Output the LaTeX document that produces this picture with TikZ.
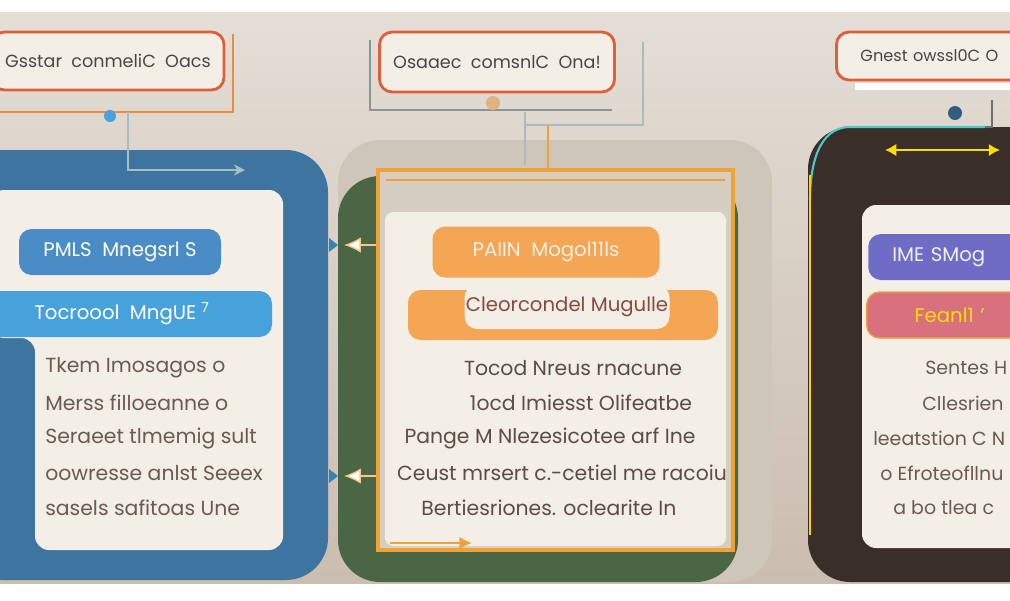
\documentclass[tikz,border=0pt]{standalone}
\usepackage{fontspec}
\setmainfont{Poppins}
\usetikzlibrary{positioning,arrows.meta,calc}
\definecolor{bgtop}{HTML}{E4DED6}
\definecolor{bgbot}{HTML}{CBBDB0}
\definecolor{cream}{HTML}{F3EEE6}
\definecolor{redline}{HTML}{DF5F3B}
\definecolor{orngline}{HTML}{F0A236}
\definecolor{bluepanel}{HTML}{3E74A0}
\definecolor{bluepill}{HTML}{4A8CC6}
\definecolor{skypill}{HTML}{47A1DA}
\definecolor{greenpanel}{HTML}{4B6644}
\definecolor{panelgray}{HTML}{CFC6BA}
\definecolor{orngpill}{HTML}{F4A654}
\definecolor{darkpanel}{HTML}{3A2E29}
\definecolor{purplepill}{HTML}{6E6CC4}
\definecolor{pinkpill}{HTML}{D9707E}
\definecolor{bodytext}{HTML}{6B5B4F}
\definecolor{conngray}{HTML}{A9BCC2}
\newcommand{\pw}{0.025cm}
\begin{document}
\begin{tikzpicture}[x=0.025cm, y=-0.025cm,
    title/.style={draw=redline, line width=2pt, fill=cream, rounded corners=9pt,
        inner sep=0pt, font=\fontsize{12.5}{15}\selectfont, text=black!72},
    pill/.style={rounded corners=9pt, inner sep=0pt, minimum height=46*\pw,
        font=\fontsize{14}{17}\selectfont, text=white},
    body/.style={font=\fontsize{14.5}{17}\selectfont, text=bodytext, inner sep=0pt},
    conn/.style={line width=1.3pt, draw=conngray}]
    \useasboundingbox (0,0) rectangle (1010,600);
    \fill[white] (0,0) rectangle (1010,600);
    \shade[top color=bgtop, bottom color=bgbot] (0,12) rectangle (1010,583);

    % panel one
    \fill[bluepanel, rounded corners=30pt] (-40,150) rectangle (328,580);
    \fill[cream, rounded corners=10pt] (-10,190) -- (283,190) -- (283,550)
        -- (35,550) -- (35,338) -- (-10,338) -- cycle;
    \node[pill, fill=bluepill, minimum width=202*\pw] (p-1-A) at (120,252) {PMLS\ \ Mnegsrl S};
    \node[pill, fill=skypill, minimum width=300*\pw] (p-2-A) at (122,314) {Tocroool\ \ MngUE \textsuperscript{7}};
    \foreach[count=\j] \lj in {Tkem Imosagos o, Merss filloeanne o, Seraeet tlmemig sult,
        oowresse anlst Seeex, sasels safitoas Une} {
        \node[body, anchor=west] (n-\j-A) at (45,{368+35*(\j-1)}) {\lj};
    }

    % panel two
    \fill[panelgray, rounded corners=30pt] (338,140) rectangle (772,582);
    \fill[greenpanel, rounded corners=30pt] (338,176) rectangle (738,582);
    \draw[orngline, line width=2.5pt, fill=panelgray!80!cream] (378,170) rectangle (733,550);
    \draw[orngline, line width=1.5pt] (386,180) -- (725,180);
    \fill[cream, rounded corners=6pt] (385,212) rectangle (726,546);
    \node[pill, fill=orngpill, minimum width=227*\pw, minimum height=51*\pw,
        text=cream] (p-1-B) at (546,252) {PAIIN\ \ Mogol11ls};
    \node[pill, fill=orngpill, minimum width=310*\pw, minimum height=50*\pw] (p-2-B) at (563,315) {};
    \node[pill, fill=cream, minimum width=205*\pw, minimum height=44*\pw,
        text=bodytext!80!red] (p-3-B) at (567,307) {Cleorcondel Mugulle};
    \foreach[count=\j] \lx/\lj in {573/Tocod Nreus rnacune, 581/1ocd Imiesst Olifeatbe,
        550/Pange M Nlezesicotee arf Ine, 562/Ceust mrsert c.-cetiel me racoiu,
        549/Bertiesriones. oclearite In} {
        \node[body, text=bodytext!85!black] (n-\j-B) at (\lx,{368+35*(\j-1)}) {\lj};
    }
    \coordinate (f-1) at (390,543);
    \coordinate (f-2) at (472,543);
    \draw[orngline, line width=2pt, -{Latex[length=9pt, width=9pt]}] (f-1) -- (f-2);

    % panel three
    \fill[darkpanel, rounded corners=30pt] (808,127) rectangle (1060,582);
    \draw[teal!60!cyan!70, line width=1.5pt] (810,200) to[out=90, in=180] (850,127) -- (985,127);
    \draw[yellow!70!orange, line width=2pt] (810,175) -- (810,535);
    \fill[cream, rounded corners=10pt] (862,205) rectangle (1060,548);
    \node[pill, fill=purplepill, anchor=west, minimum width=260*\pw, text width=260*\pw,
        align=left, text=white!90!purplepill] (p-1-C) at (868,257) {\hspace*{0.6cm}IME SMog};
    \node[pill, fill=pinkpill, draw=orngline, line width=1pt, anchor=west, minimum width=260*\pw,
        text width=260*\pw, align=left, text=yellow!80!orange] (p-2-C) at (866,315) {\hspace*{1.2cm}Feanl1 '};
    \foreach[count=\j] \lx/\lj in {925/Sentes H, 922/Cllesrien, 873/leeatstion C N,
        880/o Efroteofllnu, 893/a bo tlea c} {
        \node[body, anchor=west, font=\fontsize{13.5}{16}\selectfont] (n-\j-C) at (\lx,{368+35*(\j-1)}) {\lj};
    }
    \coordinate (d-1) at (885,150);
    \coordinate (d-2) at (1000,150);
    \draw[yellow!80!orange, line width=2pt, {Latex[length=8pt, width=9pt]}-{Latex[length=8pt, width=9pt]}] (d-1) -- (d-2);

    % titles
    \draw[orngline!70!redline, line width=1.2pt] (-5,112) -- (233,112) -- (233,34);
    \node[title, minimum width=232*\pw, minimum height=58*\pw] (t-A) at (108,61) {Gsstar\ \ conmeliC\ \ Oacs};
    \draw[conngray!80!black, line width=1pt] (370,40) -- (370,110) -- (612,110);
    \draw[conngray, line width=1.2pt] (525,125) -- (643,125) -- (643,42);
    \node[title, minimum width=235*\pw, minimum height=60*\pw] (t-B) at (497,62) {Osaaec\ \ comsnlC\ \ Ona!};
    \node[title, minimum width=200*\pw, minimum height=48*\pw, anchor=west, text width=200*\pw,
        align=left, font=\fontsize{11.5}{14}\selectfont] (t-C) at (835,56) {\hspace*{0.6cm}Gnest owssl0C O};
    \fill[white] (855,83) rectangle (1010,90);

    % connectors
    \coordinate (c-1) at (128,112);
    \coordinate (c-2) at (245,170);
    \draw[conn, -{Stealth[length=8pt, width=8pt, fill=white]}] (c-1) |- (c-2);
    \fill[skypill] (110,116) circle (6);
    \coordinate (c-3) at (548,125);
    \draw[orngline, line width=1.5pt] (c-3) -- (548,170);
    \draw[conn] (525,112) -- (525,165);
    \fill[brown!70!orange!60] (493,103) circle (7);
    \coordinate (c-4) at (992,100);
    \draw[conngray!60!black, line width=1.5pt] (c-4) |- (985,127);
    \fill[bluepanel!80!black] (955,113) circle (7);
    \foreach[count=\k] \ay in {245,476} {
        \coordinate (a-\k) at (376,\ay);
        \coordinate (b-\k) at (344,\ay);
        \draw[orngline!60, line width=1pt, -{Latex[length=12pt, width=11pt, fill=white]}] (a-\k) -- (b-\k);
        \fill[skypill!80!black] (329,\ay-7) -- (338,\ay) -- (329,\ay+7) -- cycle;
    }
\end{tikzpicture}
\end{document}
